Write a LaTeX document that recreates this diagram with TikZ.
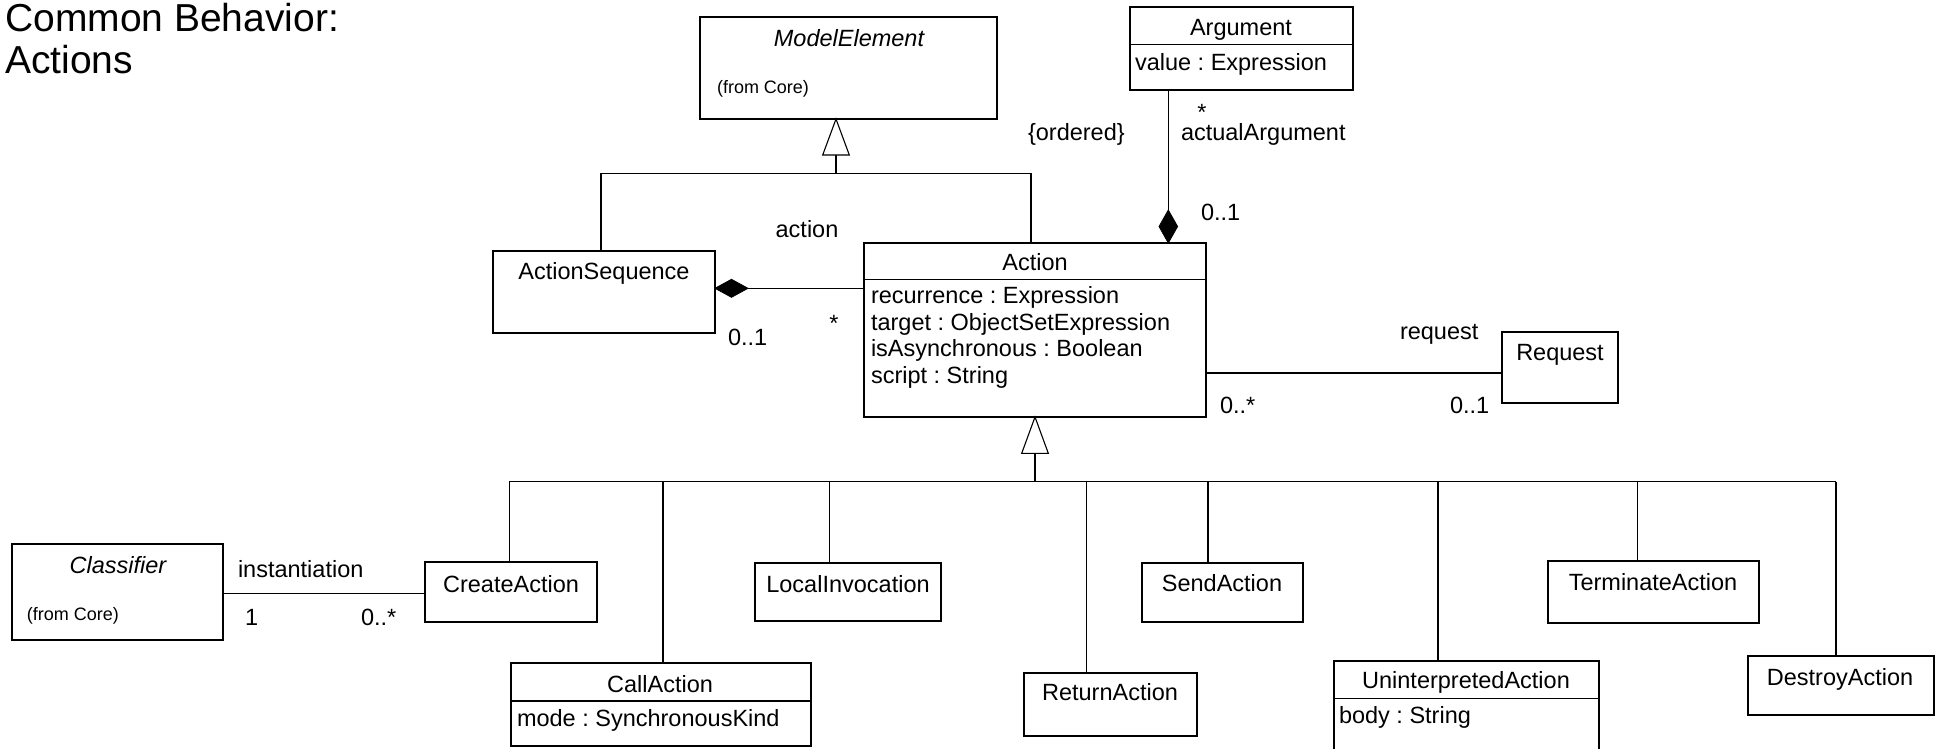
\documentclass[tikz,border=0pt]{standalone}
\usepackage{fontspec}
\setmainfont{Liberation Sans}
\frenchspacing
\newcommand\fsn{\fontsize{23.5}{28}\selectfont}
\newcommand\fss{\fontsize{18}{22}\selectfont}
\newcommand\fst{\fontsize{39}{44}\selectfont}
\tikzset{
  cls/.style={draw, line width=1.1pt, inner sep=0pt, outer sep=0pt, anchor=north west, fill=white},
  txt/.style={inner sep=0pt, outer sep=0pt, font=\fsn, anchor=base},
  txtl/.style={inner sep=0pt, outer sep=0pt, font=\fsn, anchor=base west},
  small/.style={inner sep=0pt, outer sep=0pt, font=\fss, anchor=base west},
  ln/.style={line width=1.1pt},
  diam/.style={line width=0.8pt, fill=black, line join=miter},
  tri/.style={line width=1.1pt, fill=white, line join=miter}
}
\begin{document}
\begin{tikzpicture}[x=1pt, y=-1pt]
\useasboundingbox (0,0) rectangle (1944,748);

% title
\node[inner sep=0pt, font=\fst, anchor=base west] (t1) at (5,31.7) {Common Behavior:};
\node[inner sep=0pt, font=\fst, anchor=base west] (t2) at (5,73.3) {Actions};

% ---------- class boxes ----------
\node[cls, minimum width=297pt, minimum height=102pt] (me) at (700,17) {};
\node[txt, font=\fsn\itshape] (meT) at (849,46) {ModelElement};
\node[small] (meF) at (717,93) {(from Core)};

\node[cls, minimum width=223pt, minimum height=83pt] (arg) at (1130,7) {};
\draw[ln] ([yshift=-37.3pt]arg.north west) -- ([yshift=-37.3pt]arg.north east);
\node[txt] (argT) at (1241,35) {Argument};
\node[txtl] (argA) at (1135,70) {value : Expression};

\node[cls, minimum width=222pt, minimum height=82pt] (aseq) at (493,251) {};
\node[txt] (aseqT) at (604,279) {ActionSequence};

\node[cls, minimum width=342pt, minimum height=174pt] (action) at (864,243) {};
\draw[ln] ([yshift=-36.3pt]action.north west) -- ([yshift=-36.3pt]action.north east);
\node[txt] (actionT) at (1035,270) {Action};
\node[txtl] (aa1) at (871,303.3) {recurrence : Expression};
\node[txtl] (aa2) at (871,330) {target : ObjectSetExpression};
\node[txtl] (aa3) at (871,356.7) {isAsynchronous : Boolean};
\node[txtl] (aa4) at (871,383.3) {script : String};

\node[cls, minimum width=116pt, minimum height=71pt] (req) at (1502,332) {};
\node[txt] (reqT) at (1560,360) {Request};

\node[cls, minimum width=211pt, minimum height=96pt] (clf) at (12,544) {};
\node[txt, font=\fsn\itshape] (clfT) at (118,573) {Classifier};
\node[small] (clfF) at (27,620) {(from Core)};

\node[cls, minimum width=172pt, minimum height=60pt] (create) at (425,562) {};
\node[txt] (createT) at (511,592) {CreateAction};

\node[cls, minimum width=300pt, minimum height=83pt] (call) at (511,663) {};
\draw[ln] ([yshift=-38pt]call.north west) -- ([yshift=-38pt]call.north east);
\node[txt] (callT) at (660,692) {CallAction};
\node[txtl] (callA) at (517,726) {mode : SynchronousKind};

\node[cls, minimum width=186pt, minimum height=58pt] (local) at (755,563) {};
\node[txt] (localT) at (848,592) {LocalInvocation};

\node[cls, minimum width=173pt, minimum height=63pt] (ret) at (1024,673) {};
\node[txt] (retT) at (1110,700) {ReturnAction};

\node[cls, minimum width=161pt, minimum height=59pt] (send) at (1142,563) {};
\node[txt] (sendT) at (1222,591) {SendAction};

\node[cls, minimum width=265pt, minimum height=90pt] (unint) at (1334,661) {};
\draw[ln] ([yshift=-37.3pt]unint.north west) -- ([yshift=-37.3pt]unint.north east);
\node[txt] (unintT) at (1466,688.5) {UninterpretedAction};
\node[txtl] (unintA) at (1339,723) {body : String};

\node[cls, minimum width=211pt, minimum height=62pt] (term) at (1548,561) {};
\node[txt] (termT) at (1653,590) {TerminateAction};

\node[cls, minimum width=186pt, minimum height=59pt] (destroy) at (1748,656) {};
\node[txt] (destroyT) at (1840,685) {DestroyAction};

% ---------- generalization to ModelElement ----------
\coordinate (g1apex) at (836,119);
\coordinate (g1bar) at (836,173.3);
\draw[ln] (g1apex) ++(0,36) -- (g1bar);
\draw[ln] (g1bar -| 601,0) -- (g1bar -| 1031,0);
\draw[ln] (g1bar -| 601,0) -- (601,0 |- aseq.north);
\draw[ln] (g1bar -| 1031,0) -- (1031,0 |- action.north);
\draw[tri] (g1apex) -- ++(-13.3,36) -- ++(26.6,0) -- cycle;

% ---------- generalization to Action ----------
\coordinate (g2apex) at (1035,417);
\coordinate (g2bar) at (1035,481.5);
\draw[ln] (g2apex) ++(0,36.3) -- (g2bar);
\draw[ln] (509.4,481.5) -- (1836,481.5);
\draw[ln] (509.4,481.5) -- (509.4,0 |- create.north);
\draw[ln] (663,481.5) -- (663,0 |- call.north);
\draw[ln] (829.5,481.5) -- (829.5,0 |- local.north);
\draw[ln] (1086.6,481.5) -- (1086.6,0 |- ret.north);
\draw[ln] (1208,481.5) -- (1208,0 |- send.north);
\draw[ln] (1438,481.5) -- (1438,0 |- unint.north);
\draw[ln] (1637.6,481.5) -- (1637.6,0 |- term.north);
\draw[ln] (1836,481.5) -- (1836,0 |- destroy.north);
\draw[tri] (g2apex) -- ++(-13.3,36.3) -- ++(26.6,0) -- cycle;

% ---------- composition ActionSequence - Action ----------
\coordinate (dA) at (715,288.3);
\draw[ln] (dA) ++(33,0) -- (dA -| action.west);
\draw[diam] (dA) -- ++(16.5,-9) -- ++(16.5,9) -- ++(-16.5,9) -- cycle;
\node[txt] (lAction) at (807,237) {action};
\node[txt] (lStar1) at (834,331) {*};
\node[txtl] (l01a) at (728,345) {0..1};

% ---------- composition Argument - Action ----------
\coordinate (dB) at (1168.3,243);
\draw[ln] (dB) ++(0,-33) -- (dB |- arg.south);
\draw[diam] (dB) -- ++(-9.3,-16.5) -- ++(9.3,-16.5) -- ++(9.3,16.5) -- cycle;
\node[txt] (lStar2) at (1202,120) {*};
\node[txtl] (lArg) at (1181,140) {actualArgument};
\node[txtl] (lOrd) at (1028,140) {\{ordered\}};
\node[txtl] (l01b) at (1201,220) {0..1};

% ---------- association Action - Request ----------
\draw[ln] (action.east |- 0,373) -- (req.west |- 0,373);
\node[txtl] (lReq) at (1400,339) {request};
\node[txtl] (l0sa) at (1220,413) {0..*};
\node[txtl] (l01c) at (1450,413) {0..1};

% ---------- association Classifier - CreateAction ----------
\draw[ln] (clf.east |- 0,593.3) -- (create.west |- 0,593.3);
\node[txtl] (lInst) at (238,577) {instantiation};
\node[txtl] (l1) at (245,625) {1};
\node[txtl] (l0sb) at (361,625) {0..*};
\end{tikzpicture}
\end{document}
